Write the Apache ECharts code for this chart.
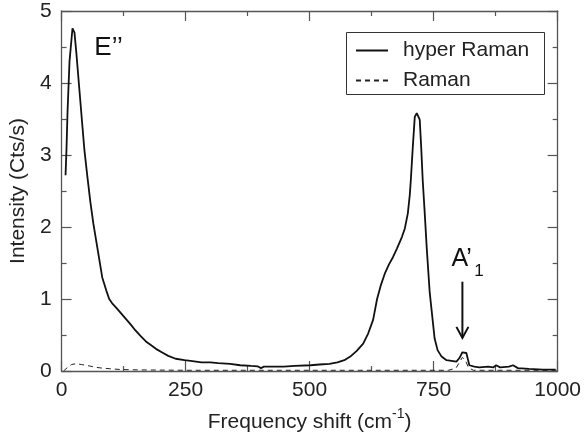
<!DOCTYPE html>
<html>
<head>
<meta charset="utf-8">
<script src="https://cdn.jsdelivr.net/npm/echarts@6/dist/echarts.min.js"></script>
<style>html,body{margin:0;padding:0;background:#fff;}#c{width:584px;height:441px;}</style>
</head>
<body>
<div id="c"></div>
<script>
// ---- data ----
const hyperX = [8,10,12,16,22,26,30,36,42,46,52,58,64,70,76,82,90,96,102,110,120,130,140,148,160,170,182,192,202,215,230,248,260,282,300,316,340,360,382,395,402,408,420,448,470,502,520,540,556,570,582,595,608,618,628,636,644,652,660,668,676,686,692,698,702,704,708,712,716,718,722,725,728,732,736,742,748,752,758,766,776,786,796,802,808,812,816,822,832,842,860,870,876,884,902,910,920,942,970,996];
const hyperY = [2.72,3.1,3.6,4.3,4.76,4.7,4.4,3.9,3.4,3.07,2.7,2.35,2.05,1.8,1.55,1.3,1.12,1.0,0.94,0.88,0.8,0.72,0.64,0.57,0.48,0.41,0.35,0.3,0.26,0.21,0.17,0.15,0.14,0.12,0.12,0.11,0.1,0.08,0.07,0.065,0.04,0.06,0.06,0.06,0.07,0.08,0.09,0.1,0.12,0.15,0.2,0.28,0.38,0.52,0.71,1.0,1.2,1.36,1.48,1.58,1.7,1.86,1.98,2.19,2.45,2.65,3.11,3.53,3.58,3.6,3.49,3.1,2.65,2.2,1.72,1.1,0.71,0.45,0.29,0.2,0.15,0.14,0.13,0.18,0.26,0.27,0.25,0.08,0.06,0.05,0.06,0.05,0.08,0.05,0.06,0.08,0.04,0.03,0.02,0.02];
const ramanX = [4,12,20,28,40,56,70,82,100,120,160,250,400,600,780,795,802,808,814,820,830,1000];
const ramanY = [0.0,0.05,0.09,0.1,0.09,0.07,0.05,0.04,0.03,0.02,0.015,0.01,0.01,0.01,0.01,0.04,0.12,0.19,0.15,0.05,0.01,0.01];
const xTicks = [0,250,500,750,1000];
const yTicks = [0,1,2,3,4,5];
const seriesNames = ['hyper Raman','Raman'];
// annotations (data coordinates)
const arrowX = 808, arrowTop = 1.24, arrowTip = 0.46;
const peakLabelE = {x: 66, y: 4.49, text: 'E\u2019\u2019'};
const peakLabelA = {x: 786, y: 1.56, text: 'A\u2019', sub: '1', subX: 832, subY: 1.38};

const FONT = '"Liberation Sans", Arial, Helvetica, sans-serif';
const AX = '#555';
const hyperData = hyperX.map((x,i)=>[x,hyperY[i]]);
const ramanData = ramanX.map((x,i)=>[x,ramanY[i]]);

const chart = echarts.init(document.getElementById('c'), null, {renderer:'canvas'});
const baseAxis = {
  type:'value',
  axisLine:{show:true, onZero:false, lineStyle:{color:AX, width:1.3}},
  axisTick:{show:true, inside:true, length:10, lineStyle:{color:AX, width:1.2}},
  minorTick:{show:true, splitNumber:2, length:5, lineStyle:{color:AX, width:1.2}},
  splitLine:{show:false},
  minorSplitLine:{show:false}
};
chart.setOption({
  animation:false,
  backgroundColor:'#fff',
  textStyle:{fontFamily:FONT},
  grid:{left:59, right:25, top:11, bottom:70, containLabel:false},
  legend:{
    data:seriesNames, orient:'vertical', left:355, top:40,
    itemWidth:32, itemHeight:14, itemGap:9, padding:0,
    itemStyle:{color:'rgba(0,0,0,0)', borderWidth:0, opacity:0},
    textStyle:{fontSize:21, color:'#222', fontFamily:FONT, padding:[0,0,0,10]}
  },
  xAxis:[
    Object.assign({}, baseAxis, {
      position:'bottom', min:xTicks[0], max:xTicks[xTicks.length-1], interval:xTicks[1]-xTicks[0],
      axisLabel:{show:true, margin:9, fontSize:21, color:'#222', fontFamily:FONT, formatter:v=>String(v)},
      name:'Frequency shift (cm{sup|-1})', nameLocation:'middle', nameGap:36,
      nameTextStyle:{fontSize:21, color:'#222', fontFamily:FONT,
        rich:{sup:{fontSize:14, color:'#222', fontFamily:FONT, padding:[0,0,16,0]}}}
    }),
    Object.assign({}, baseAxis, {
      position:'top', min:xTicks[0], max:xTicks[xTicks.length-1], interval:xTicks[1]-xTicks[0],
      axisLabel:{show:false}
    })
  ],
  yAxis:[
    Object.assign({}, baseAxis, {
      position:'left', min:yTicks[0], max:yTicks[yTicks.length-1], interval:1,
      axisLabel:{show:true, margin:10, fontSize:21, color:'#222', fontFamily:FONT, formatter:v=>String(v)},
      name:'Intensity (Cts/s)', nameLocation:'middle', nameGap:31,
      nameTextStyle:{fontSize:21, color:'#222', fontFamily:FONT}
    }),
    Object.assign({}, baseAxis, {
      position:'right', min:yTicks[0], max:yTicks[yTicks.length-1], interval:1,
      axisLabel:{show:false}
    })
  ],
  series:[
    {name:seriesNames[0], type:'line', data:hyperData, symbol:'none', showSymbol:false,
     lineStyle:{color:'#111', width:1.8}, itemStyle:{color:'#111'}, z:3},
    {name:seriesNames[1], type:'line', data:ramanData, symbol:'none', showSymbol:false,
     lineStyle:{color:'#222', width:1, type:[5,4]}, itemStyle:{color:'#222'}, z:2}
  ]
});

const P = (x,y)=>chart.convertToPixel({xAxisIndex:0, yAxisIndex:0}, [x,y]);
const aT = P(arrowX, arrowTop), aB = P(arrowX, arrowTip);
const eP = P(peakLabelE.x, peakLabelE.y);
const aP = P(peakLabelA.x, peakLabelA.y);
const sP = P(peakLabelA.subX, peakLabelA.subY);
chart.setOption({
  graphic:[
    {type:'rect', shape:{x:346.5, y:32.5, width:198, height:62}, style:{fill:'none', stroke:'#333', lineWidth:1}, z:10},
    {type:'polyline', shape:{points:[[aT[0],aT[1]],[aB[0],aB[1]]]}, style:{stroke:'#111', lineWidth:2, fill:null}, z:10},
    {type:'polyline', shape:{points:[[aB[0]-6,aB[1]-11],[aB[0],aB[1]],[aB[0]+6,aB[1]-11]]}, style:{stroke:'#111', lineWidth:2, fill:null}, z:10},
    {type:'text', x:eP[0], y:eP[1], style:{text:peakLabelE.text, font:'26px '+FONT, fill:'#111', textAlign:'left', textVerticalAlign:'middle'}, z:10},
    {type:'text', x:aP[0], y:aP[1], style:{text:peakLabelA.text, font:'25px '+FONT, fill:'#111', textAlign:'left', textVerticalAlign:'middle'}, z:10},
    {type:'text', x:sP[0], y:sP[1], style:{text:peakLabelA.sub, font:'17px '+FONT, fill:'#111', textAlign:'left', textVerticalAlign:'middle'}, z:10}
  ]
});
</script>
</body>
</html>
